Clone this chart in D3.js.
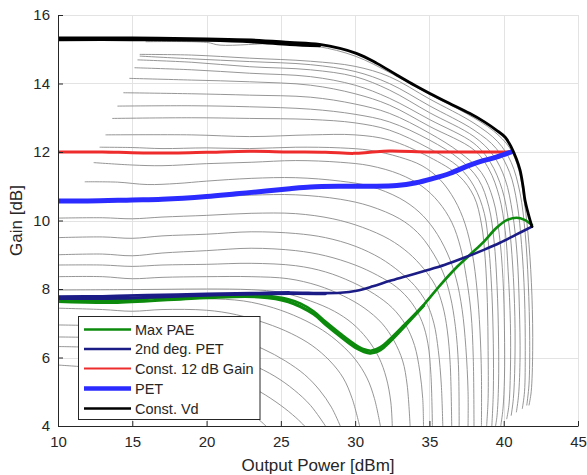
<!DOCTYPE html>
<html>
<head>
<meta charset="utf-8">
<script src="https://cdn.jsdelivr.net/npm/d3@7/dist/d3.min.js"></script>
<style>
  html, body { margin: 0; padding: 0; background: #fff; }
  svg { display: block; }
  text { font-family: "Liberation Sans", Arial, Helvetica, sans-serif; fill: #262626; }
</style>
</head>
<body>
<svg id="chart" width="587" height="475"></svg>
<script>
// Axis ticks
const xTicks = [10, 15, 20, 25, 30, 35, 40, 45];
const yTicks = [4, 6, 8, 10, 12, 14, 16];

// Gain vs output power for each drain-voltage step (Pout dBm, gain dB)
const vdSweeps = [
  [[15.9,15.22],[20,15.2],[20.9,15.12],[25,15.17],[27.5,15.08],[30,14.8],[32.5,14.28],[35,13.68],[37.5,13.12],[39.3,12.62],[40.4,12.12],[41,11.5],[41.4,10.5],[41.7,9.3],[41.9,7.8],[41.95,6.2],[41.85,5.0],[41.7,4.6]],
  [[15.5,14.85],[19,14.83],[22.9,14.74],[27,14.65],[30,14.5],[32.3,14.2],[35,13.55],[38,12.84],[39.6,12.3],[40.5,11.7],[41.1,10.8],[41.45,9.6],[41.65,8.2],[41.75,6.5],[41.7,5.2],[41.55,4.6]],
  [[15.5,14.8],[19,14.72],[22.9,14.64],[27,14.55],[30,14.35],[32.3,14.0],[35,13.35],[38,12.64],[39.5,12.1],[40.4,11.4],[40.9,10.5],[41.2,9.3],[41.4,7.8],[41.45,6.2],[41.4,5.0],[41.25,4.5]],
  [[15.35,14.69],[19,14.62],[22.9,14.49],[27,14.4],[30,14.2],[32.3,13.81],[35,13.15],[38,12.45],[39.3,11.9],[40.1,11.2],[40.6,10.2],[40.9,9.0],[41.05,7.5],[41.1,6.0],[41.0,4.9],[40.85,4.4]],
  [[15.15,14.46],[19,14.4],[22.9,14.3],[27,14.2],[30,13.95],[32.3,13.57],[35,12.95],[38,12.25],[39.1,11.7],[39.9,10.9],[40.35,9.9],[40.6,8.7],[40.75,7.2],[40.75,5.8],[40.65,4.8],[40.5,4.3]],
  [[14.8,14.15],[19,14.1],[22.9,14.05],[27,13.95],[30,13.7],[32.3,13.37],[35,12.75],[38,12.06],[39,11.5],[39.7,10.7],[40.1,9.7],[40.3,8.5],[40.45,7.0],[40.45,5.6],[40.35,4.6],[40.2,4.2]],
  [[14.4,13.73],[19,13.7],[22.9,13.66],[27,13.6],[30,13.4],[32.3,13.13],[35,12.55],[37,12.0],[38.5,11.4],[39.3,10.6],[39.7,9.6],[39.95,8.3],[40.05,6.8],[40.05,5.4],[39.95,4.5],[39.8,4.0]],
  [[14.0,13.34],[19,13.35],[22.9,13.32],[27,13.25],[30,13.1],[32.3,12.88],[35,12.35],[37,11.8],[38.3,11.2],[39,10.4],[39.35,9.4],[39.55,8.1],[39.65,6.6],[39.65,5.2],[39.55,4.3],[39.45,4.0]],
  [[13.65,12.98],[19,13.0],[22.9,12.98],[27,12.95],[30,12.85],[32.3,12.64],[35,12.1],[37,11.55],[38,11.0],[38.7,10.2],[39,9.2],[39.2,7.9],[39.3,6.4],[39.3,5.0],[39.2,4.0]],
  [[13.2,12.5],[19,12.5],[22.9,12.45],[27,12.5],[30,12.5],[32.3,12.35],[35,11.85],[37,11.3],[38,10.7],[38.5,9.9],[38.75,8.9],[38.9,7.6],[38.95,6.2],[38.95,4.8],[38.85,4.0]],
  [[12.8,12.14],[15,12.13],[17,12.1],[20,12.12],[22.9,12.1],[26,12.14],[29,12.12],[31,12.05],[33,11.85],[34.5,11.6],[35.7,11.2],[36.7,10.6],[37.4,9.9],[37.9,9.0],[38.2,8.0],[38.4,6.8],[38.5,5.5],[38.5,4.0]],
  [[12.4,11.69],[15,11.62],[17,11.6],[20,11.66],[23,11.7],[26,11.75],[29,11.7],[31,11.6],[33,11.35],[34.5,11.0],[35.6,10.55],[36.5,9.95],[37.1,9.2],[37.5,8.3],[37.8,7.3],[37.95,6.0],[38.0,4.0]],
  [[11.8,11.13],[14,11.12],[16,11.05],[18,11.08],[20,11.15],[23,11.23],[26,11.25],[29,11.15],[31,11.0],[33,10.65],[34.3,10.25],[35.3,9.75],[36.2,9.05],[36.8,8.3],[37.2,7.4],[37.45,6.3],[37.6,5.0],[37.6,4.0]],
  [[11.2,10.57],[14,10.6],[17,10.62],[20,10.68],[23,10.74],[26,10.75],[29,10.62],[31,10.42],[33,10.05],[34.2,9.65],[35.1,9.15],[35.9,8.5],[36.4,7.8],[36.75,6.9],[36.95,5.8],[37.0,4.0]],
  [[10,10.07],[13,10.08],[15,10.05],[17,10.1],[20,10.15],[23,10.21],[26,10.2],[28.5,10.05],[30.5,9.8],[32.3,9.45],[33.6,9.05],[34.6,8.6],[35.4,8.1],[35.9,7.5],[36.2,6.8],[36.4,5.8],[36.5,4.0]],
  [[10,9.5],[13,9.52],[15,9.48],[17,9.55],[20,9.6],[23,9.67],[26,9.62],[28,9.5],[30,9.25],[31.7,8.9],[33,8.5],[34,8.1],[34.8,7.6],[35.3,7.0],[35.6,6.2],[35.8,5.2],[35.9,4.0]],
  [[10,9.0],[13,9.02],[15,8.97],[17,9.05],[20,9.12],[23,9.19],[26,9.12],[28,8.97],[30,8.7],[31.5,8.4],[32.8,8.05],[33.8,7.6],[34.5,7.05],[34.9,6.4],[35.1,5.5],[35.2,4.0]],
  [[10,8.7],[13,8.7],[15,8.66],[17,8.7],[20,8.72],[23,8.75],[26,8.68],[28,8.5],[29.8,8.2],[31.3,7.85],[32.5,7.45],[33.4,6.95],[34,6.35],[34.35,5.6],[34.55,4.8],[34.6,4.0]],
  [[10,8.36],[13,8.36],[15,8.3],[17,8.34],[20,8.36],[23,8.36],[25.5,8.3],[27.5,8.1],[29.2,7.8],[30.6,7.45],[31.8,7.0],[32.6,6.5],[33.2,5.9],[33.5,5.2],[33.7,4.0]],
  [[10,7.97],[14,7.98],[17,7.99],[20,8.0],[23,7.98],[25,7.9],[27,7.65],[28.6,7.35],[29.8,7.0],[30.8,6.55],[31.6,6.0],[32.1,5.4],[32.4,4.7],[32.5,4.0]],
  [[10,7.73],[14,7.72],[17,7.73],[20,7.72],[22.5,7.65],[24.5,7.45],[26.3,7.15],[27.8,6.8],[29,6.4],[30,5.95],[30.8,5.4],[31.3,4.8],[31.7,4.0]],
  [[10,7.44],[13,7.4],[15,7.35],[17,7.4],[20,7.38],[22,7.25],[24,7.0],[25.7,6.7],[27.1,6.35],[28.3,5.9],[29.2,5.4],[29.8,4.8],[30.3,4.0]],
  [[10,6.95],[13,6.92],[15,6.85],[17,6.88],[20,6.78],[22,6.55],[23.8,6.25],[25.3,5.9],[26.6,5.5],[27.6,5.05],[28.4,4.55],[29.0,4.0]],
  [[10,6.6],[13,6.58],[15,6.55],[17,6.5],[19,6.35],[21,6.1],[23,5.8],[24.6,5.45],[25.9,5.05],[27,4.6],[28.0,4.0]],
  [[10,6.32],[12,6.3],[14,6.25],[16,6.12],[18,5.92],[20,5.68],[22,5.35],[23.6,5.0],[25,4.6],[26,4.25],[26.6,4.0]],
  [[10,5.78],[12,5.72],[14,5.65],[16,5.58],[17.3,5.5],[19,5.28],[20.6,5.0],[22,4.65],[23.2,4.3],[24.0,4.0]]
];

// Trajectories (Pout dBm, gain dB); the "B" arrays are the companion traces that thicken each band
const maxPae = [[10,7.7],[12,7.68],[14,7.67],[16,7.72],[18,7.77],[20,7.8],[22,7.83],[23.5,7.82],[24.5,7.78],[25.5,7.7],[26.3,7.58],[27.2,7.35],[28,7.05],[29,6.7],[30,6.38],[30.6,6.24],[31.1,6.2],[31.7,6.3],[32.3,6.52],[33.3,6.95],[34.6,7.53],[35.7,8.1],[36.8,8.62],[37.73,9.0],[38.7,9.4],[39.5,9.78],[40.2,10.01],[40.87,10.08],[41.4,10.02],[41.9,9.87]];
const maxPaeB = [[10,7.64],[14,7.61],[20,7.75],[23.5,7.77],[25.5,7.63],[27.2,7.27],[28,6.97],[29,6.62],[30,6.3],[31,6.13],[31.7,6.22],[32.3,6.45],[33.3,6.9],[34.6,7.51]];
const pet2 = [[10,7.78],[13,7.79],[16,7.82],[20,7.86],[23,7.88],[25.6,7.9],[27.85,7.88],[29,7.89],[30.1,7.95],[31.2,8.08],[32.35,8.24],[33.5,8.38],[34.6,8.52],[36,8.7],[37.5,8.94],[38.7,9.15],[39.75,9.35],[40.8,9.58],[41.9,9.82]];
const pet2B = [[10,7.72],[14,7.73],[20,7.82],[25.6,7.87],[28,7.86]];
const gain12 = [[10,12.0],[13,12.0],[15,11.98],[17.8,11.97],[20,11.99],[22.9,12.02],[25.6,12.0],[28,11.99],[29.9,11.96],[31,11.99],[32.3,12.03],[35,12.0],[38,12.0],[40.5,12.0]];
const pet = [[10,10.57],[12,10.57],[15,10.6],[17,10.62],[20,10.7],[22,10.78],[24,10.86],[25.6,10.93],[27,10.98],[29,11.0],[31,11.0],[32.8,11.02],[34.1,11.1],[35.2,11.22],[36.4,11.38],[37.5,11.58],[38.4,11.72],[39.5,11.85],[40.5,12.0]];
const constVd = [[10,15.33],[15,15.33],[20,15.3],[23,15.27],[25.6,15.2],[27.6,15.14],[30.08,14.88],[31.5,14.58],[32.8,14.25],[34,13.95],[35.03,13.71],[36.3,13.43],[37.7,13.13],[38.7,12.88],[39.5,12.64],[40.1,12.43],[40.5,12.15],[40.85,11.8],[41.1,11.47],[41.3,11.0],[41.43,10.6],[41.65,10.2],[41.9,9.82]];
const constVdB = [[10,15.28],[15,15.28],[20,15.26],[23,15.22],[25.6,15.14],[27.6,15.1]];

const legendLabels = ["Max PAE", "2nd deg. PET", "Const. 12 dB Gain", "PET", "Const. Vd"];
const legendColors = ["#0b8a0b", "#1c1c87", "#ee2c2c", "#2b2bff", "#000000"];
const legendWidths = [2.5, 2.5, 2, 4.5, 2.5];

const svg = d3.select("#chart");
const W = 587, H = 475;
const margin = { left: 58, right: 9, top: 15, bottom: 49 };

const x = d3.scaleLinear().domain([10, 45]).range([margin.left, W - margin.right]);
const y = d3.scaleLinear().domain([4, 16]).range([H - margin.bottom, margin.top]);

svg.append("rect").attr("width", W).attr("height", H).attr("fill", "#fff");

// grid
const grid = svg.append("g").attr("stroke", "#e3e3e3").attr("stroke-width", 1);
grid.selectAll("line.v").data(xTicks.slice(1)).join("line")
  .attr("x1", d => Math.round(x(d)) + 0.5).attr("x2", d => Math.round(x(d)) + 0.5)
  .attr("y1", y(4)).attr("y2", y(16));
grid.selectAll("line.h").data(yTicks.slice(1)).join("line")
  .attr("y1", d => Math.round(y(d)) + 0.5).attr("y2", d => Math.round(y(d)) + 0.5)
  .attr("x1", x(10)).attr("x2", x(45));

svg.append("clipPath").attr("id", "plotClip").append("rect")
  .attr("x", x(10)).attr("y", y(16)).attr("width", x(45) - x(10)).attr("height", y(4) - y(16));

const plot = svg.append("g").attr("clip-path", "url(#plotClip)");
const line = d3.line().x(d => x(d[0])).y(d => y(d[1])).curve(d3.curveCatmullRom.alpha(0.5));

plot.append("g").selectAll("path").data(vdSweeps).join("path")
  .attr("d", line).attr("fill", "none").attr("stroke", "#8a8a8a").attr("stroke-width", 0.9);

function trace(data, color, width) {
  plot.append("path").datum(data).attr("d", line)
    .attr("fill", "none").attr("stroke", color).attr("stroke-width", width)
    .attr("stroke-linejoin", "round").attr("stroke-linecap", "round");
}
trace(maxPaeB, legendColors[0], 3.2);
trace(maxPae, legendColors[0], 2.6);
trace(pet2B, legendColors[1], 3);
trace(pet2, legendColors[1], 2.6);
trace(gain12, legendColors[2], 3);
trace(pet, legendColors[3], 5);
trace(constVdB, legendColors[4], 3);
trace(constVd, legendColors[4], 2.8);

// axes
const axisColor = "#262626";
const xAxis = d3.axisBottom(x).tickValues(xTicks).tickSizeInner(-5).tickSizeOuter(0).tickPadding(10);
const yAxis = d3.axisLeft(y).tickValues(yTicks).tickSizeInner(-5).tickSizeOuter(0).tickPadding(8);

const gx = svg.append("g").attr("transform", `translate(0,${y(4)})`).call(xAxis);
const gy = svg.append("g").attr("transform", `translate(${x(10)},0)`).call(yAxis);
[gx, gy].forEach(g => {
  g.select(".domain").attr("stroke", axisColor);
  g.selectAll(".tick line").attr("stroke", axisColor);
  g.selectAll(".tick text").attr("fill", axisColor).style("font-size", "15px")
    .style("font-family", "'Liberation Sans', Arial, sans-serif");
});

svg.append("text").attr("x", (x(10) + x(45)) / 2).attr("y", 471)
  .attr("text-anchor", "middle").style("font-size", "17px").text("Output Power [dBm]");
svg.append("text").attr("transform", `translate(22,${(y(4) + y(16)) / 2}) rotate(-90)`)
  .attr("text-anchor", "middle").style("font-size", "17px").text("Gain [dB]");

// legend
const lg = svg.append("g");
lg.append("rect").attr("x", 78.5).attr("y", 316.5).attr("width", 181.5).attr("height", 103)
  .attr("fill", "#fff").attr("stroke", axisColor).attr("stroke-width", 1);
const rowY = [329.5, 349, 368.5, 388.5, 408.5];
legendLabels.forEach((lab, i) => {
  lg.append("line").attr("x1", 84).attr("x2", 131).attr("y1", rowY[i]).attr("y2", rowY[i])
    .attr("stroke", legendColors[i]).attr("stroke-width", legendWidths[i]);
  lg.append("text").attr("x", 135).attr("y", rowY[i]).attr("dy", "0.35em")
    .style("font-size", "14.5px").text(lab);
});
</script>
</body>
</html>
